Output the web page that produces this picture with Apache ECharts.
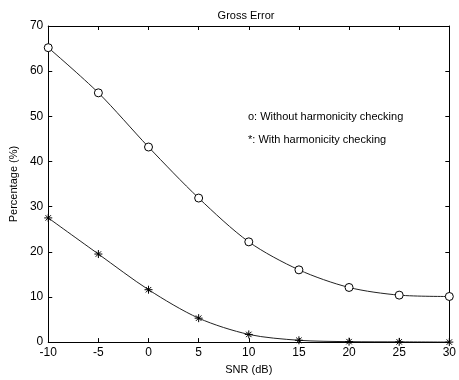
<!DOCTYPE html>
<html>
<head>
<meta charset="utf-8">
<script src="https://cdn.jsdelivr.net/npm/echarts@6/dist/echarts.min.js"></script>
<style>
  html, body { margin: 0; padding: 0; background: #fff; }
  #chart { width: 459px; height: 380px; }
</style>
</head>
<body>
<div id="chart"></div>
<script>
const snr = [-10, -5, 0, 5, 10, 15, 20, 25, 30]
const withoutCheck = [65.2, 55.2, 43.2, 31.9, 22.2, 16.0, 12.1, 10.4, 10.1]
const withCheck = [27.5, 19.5, 11.6, 5.3, 1.7, 0.4, 0.1, 0.05, 0.0]
const legendLines = ['o: Without harmonicity checking', '*: With harmonicity checking']

const font = 'Liberation Sans, Arial, sans-serif'
const ink = '#000'
// asterisk marker drawn as strokes
const star = 'path://M0,5L10,5M5,0L5,10M1.6,1.6L8.4,8.4M8.4,1.6L1.6,8.4'

const chart = echarts.init(document.getElementById('chart'))

const axisBase = {
  axisLine: { show: true, onZero: false, lineStyle: { color: ink, width: 1 } },
  axisTick: { show: true, inside: true, length: 4, lineStyle: { color: ink } },
  splitLine: { show: false }
}

const option = {
  animation: false,
  backgroundColor: '#fff',
  title: {
    text: 'Gross Error',
    left: 241, top: 5,
    textAlign: 'center',
    textStyle: { fontFamily: font, fontSize: 11, fontWeight: 'normal', color: ink }
  },
  grid: { left: 47, right: 6, top: 26, bottom: 34 },
  xAxis: [
    {
      ...axisBase,
      type: 'value', min: -10, max: 30, interval: 5,
      name: 'SNR (dB)', nameLocation: 'middle', nameGap: 19,
      nameTextStyle: { fontFamily: font, fontSize: 11, color: ink },
      axisLabel: { fontFamily: font, fontSize: 12, color: ink, margin: 5 }
    },
    {
      ...axisBase,
      type: 'value', min: -10, max: 30, interval: 5, position: 'top',
      axisLabel: { show: false }
    }
  ],
  yAxis: [
    {
      ...axisBase,
      type: 'value', min: 0, max: 70, interval: 10,
      name: 'Percentage (%)', nameLocation: 'middle', nameGap: 28,
      nameTextStyle: { fontFamily: font, fontSize: 11, color: ink },
      axisLabel: { fontFamily: font, fontSize: 12, color: ink, margin: 5 }
    },
    {
      ...axisBase,
      type: 'value', min: 0, max: 70, interval: 10, position: 'right',
      axisLabel: { show: false }
    }
  ],
  graphic: legendLines.map((t, i) => ({
    type: 'text',
    left: 248, top: 111 + i * 23,
    style: { text: t, font: '11px ' + font, fill: ink }
  })),
  series: [
    {
      type: 'line',
      data: snr.map((x, i) => [x, withoutCheck[i]]),
      smooth: 0.3,
      symbol: 'circle', symbolSize: 8,
      itemStyle: { color: '#fff', borderColor: ink, borderWidth: 1 },
      lineStyle: { color: '#222', width: 1 }
    },
    {
      type: 'line',
      data: snr.map((x, i) => [x, withCheck[i]]),
      smooth: 0.3,
      symbol: star, symbolSize: 8,
      itemStyle: { color: 'none', borderColor: ink, borderWidth: 1 },
      lineStyle: { color: '#222', width: 1 }
    }
  ]
}

chart.setOption(option)
</script>
</body>
</html>
